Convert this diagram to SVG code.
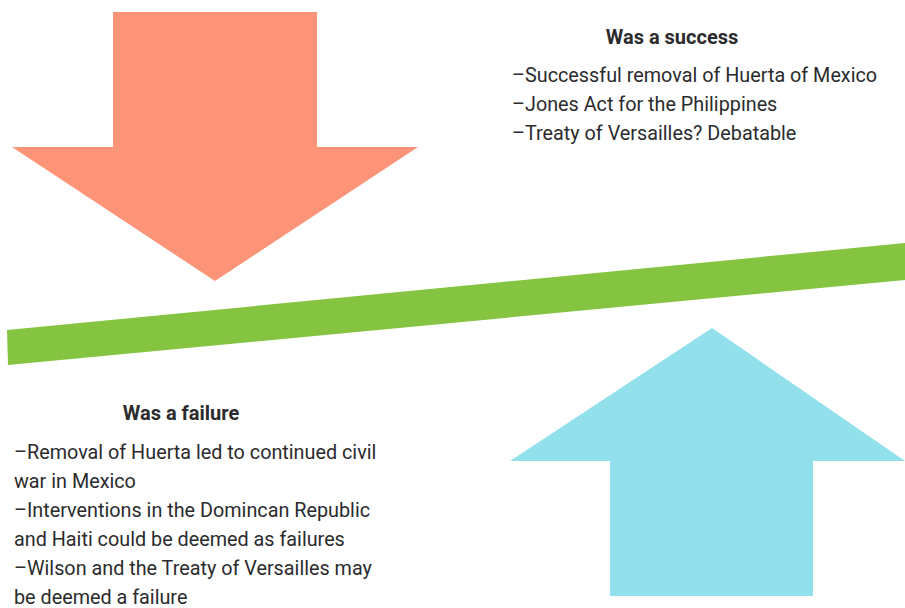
<svg xmlns="http://www.w3.org/2000/svg" width="905" height="608" viewBox="0 0 905 608">
<style>
.t{font-family:Roboto,"Liberation Sans",sans-serif;font-size:19.8px;fill:#2b2b2e}
.h{font-family:Roboto,"Liberation Sans",sans-serif;font-size:20px;font-weight:bold;fill:#2b2b2e;text-anchor:middle}
</style>
<rect width="905" height="608" fill="#ffffff"/>
<g id="down-arrow"><polygon points="113,12 317,12 317,147 418,147 215,281 12,147 113,147" fill="#fd9377"/></g>
<g id="up-arrow"><polygon points="712,328 905,461 813,461 813,596 610,596 610,461 510,461" fill="#93e0ed"/></g>
<g id="beam"><polygon points="7,330 905,243 905,280 8,365" fill="#84c441"/></g>
<g id="success">
<text class="h" x="672" y="44">Was a success</text>
<text class="t" x="512" y="82">–Successful removal of Huerta of Mexico</text>
<text class="t" x="512" y="111">–Jones Act for the Philippines</text>
<text class="t" x="512" y="140">–Treaty of Versailles? Debatable</text>
</g>
<g id="failure">
<text class="h" x="181" y="420">Was a failure</text>
<text class="t" x="14" y="459">–Removal of Huerta led to continued civil</text>
<text class="t" x="14" y="488">war in Mexico</text>
<text class="t" x="14" y="517">–Interventions in the Domincan Republic</text>
<text class="t" x="14" y="546">and Haiti could be deemed as failures</text>
<text class="t" x="14" y="575">–Wilson and the Treaty of Versailles may</text>
<text class="t" x="14" y="604">be deemed a failure</text>
</g>
</svg>
